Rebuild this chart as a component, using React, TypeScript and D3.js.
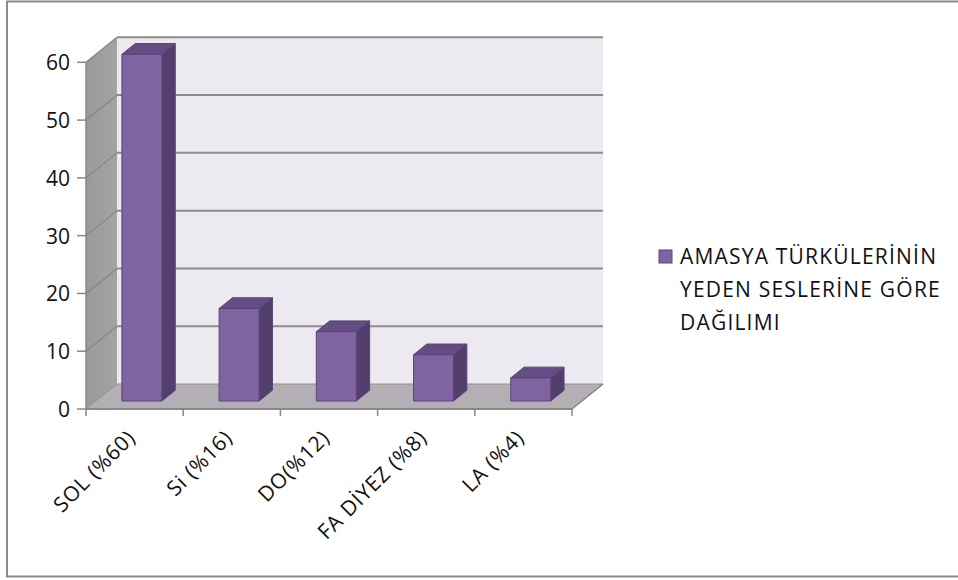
import React from "react";
import * as d3 from "d3";

const categories = ["SOL (%60)", "Si (%16)", "DO(%12)", "FA DİYEZ (%8)", "LA (%4)"];
const values = [60, 16, 12, 8, 4];
const yTicks = [0, 10, 20, 30, 40, 50, 60];
const legendLines = ["AMASYA TÜRKÜLERİNİN", "YEDEN SESLERİNE GÖRE", "DAĞILIMI"];

const W = 958;
const H = 580;
const FONT = "'Open Sans', 'Liberation Sans', sans-serif";

export default function App() {
  const x0 = 86, x1 = 572;
  const yBase = 409, yTop = 62.3;
  const DX = 31, DY = -25;

  const x = d3.scaleBand<string>().domain(categories).range([x0, x1]).padding(0);
  const y = d3.scaleLinear().domain([0, 60]).range([yBase, yTop]);

  const zf = 0.32, zb = 0.75;
  const fdx = DX * zf, fdy = DY * zf;
  const bdx = DX * zb, bdy = DY * zb;
  const barW = 40;

  const pts = (a: [number, number][]) => a.map((p) => p.join(",")).join(" ");

  return (
    <svg width={W} height={H} style={{ position: "absolute", left: 0, top: 0 }}>
      <defs>
        <linearGradient id="lw" x1="0" y1="0" x2="1" y2="0">
          <stop offset="0" stopColor="#9a9a9a" />
          <stop offset="1" stopColor="#a3a3a3" />
        </linearGradient>
      </defs>
      <rect x={0} y={0} width={W} height={H} fill="#fff" />
      <rect x={7} y={1.5} width={W + 10} height={575} fill="none" stroke="#8a8a8a" strokeWidth={2} />

      <rect x={x0 + DX} y={y(60) + DY} width={x1 - x0} height={y(0) - y(60)} fill="#ECE9F1" />
      <polygon
        points={pts([
          [x0, y(60)],
          [x0 + DX, y(60) + DY],
          [x0 + DX, y(0) + DY],
          [x0, y(0)],
        ])}
        fill="url(#lw)"
      />
      <polygon
        points={pts([
          [x0, y(0)],
          [x0 + DX, y(0) + DY],
          [x1 + DX, y(0) + DY],
          [x1, y(0)],
        ])}
        fill="#B4AFB4"
        stroke="#8f8f8f"
        strokeWidth={1}
      />
      {yTicks.map((t) => (
        <g key={t}>
          {t > 0 && (
            <line x1={x0 + DX} x2={x1 + DX} y1={y(t) + DY} y2={y(t) + DY} stroke="#8c8c8c" strokeWidth={2} />
          )}
          {t > 0 && (
            <line x1={x0} x2={x0 + DX} y1={y(t)} y2={y(t) + DY} stroke="#858585" strokeWidth={1.2} />
          )}
          <line x1={x0 - 9} x2={x0} y1={y(t)} y2={y(t)} stroke="#888" strokeWidth={1.5} />
          <text
            x={x0 - 16}
            y={y(t)}
            textAnchor="end"
            dominantBaseline="central"
            fontFamily={FONT}
            fontSize={21}
            fill="#111"
          >
            {t}
          </text>
        </g>
      ))}
      <line x1={x0} x2={x0} y1={y(60)} y2={y(0)} stroke="#888" strokeWidth={1.5} />
      <line x1={x0} x2={x1} y1={y(0)} y2={y(0)} stroke="#888" strokeWidth={2} />
      <line x1={x1} x2={x1 + DX} y1={y(0)} y2={y(0) + DY} stroke="#888" strokeWidth={1.5} />
      {[...categories.map((c) => x(c)!), x1].map((v, i) => (
        <line key={i} x1={v} x2={v} y1={y(0)} y2={y(0) + 7} stroke="#888" strokeWidth={1.5} />
      ))}

      {categories.map((c, i) => {
        const v = values[i];
        const lx = x(c)! + 26 + fdx;
        const rx = lx + barW;
        const by = y(0) + fdy;
        const ty = y(v) + fdy;
        const ddx = bdx - fdx, ddy = bdy - fdy;
        return (
          <g key={c} stroke="#5a4478" strokeWidth={1} strokeLinejoin="round">
            <polygon
              points={pts([
                [rx, ty],
                [rx + ddx, ty + ddy],
                [rx + ddx, by + ddy],
                [rx, by],
              ])}
              fill="#533F6B"
            />
            <polygon
              points={pts([
                [lx, ty],
                [lx + ddx, ty + ddy],
                [rx + ddx, ty + ddy],
                [rx, ty],
              ])}
              fill="#644C84"
            />
            <rect x={lx} y={ty} width={barW} height={by - ty} fill="#8064A2" />
          </g>
        );
      })}

      {categories.map((c) => {
        const cx = x(c)! + x.bandwidth() / 2;
        return (
          <text
            key={c}
            transform={`translate(${cx + 2},${y(0) + 30}) rotate(-45)`}
            textAnchor="end"
            fontFamily={FONT}
            fontSize={21}
            letterSpacing={0.8}
            fill="#111"
          >
            {c}
          </text>
        );
      })}

      <rect x={659} y={250} width={13} height={13} fill="#8064A2" stroke="#5a4478" strokeWidth={1} />
      {legendLines.map((l, i) => (
        <text key={i} x={680} y={264 + i * 33} fontFamily={FONT} fontSize={21} letterSpacing={1.2} fill="#111">
          {l}
        </text>
      ))}
    </svg>
  );
}
